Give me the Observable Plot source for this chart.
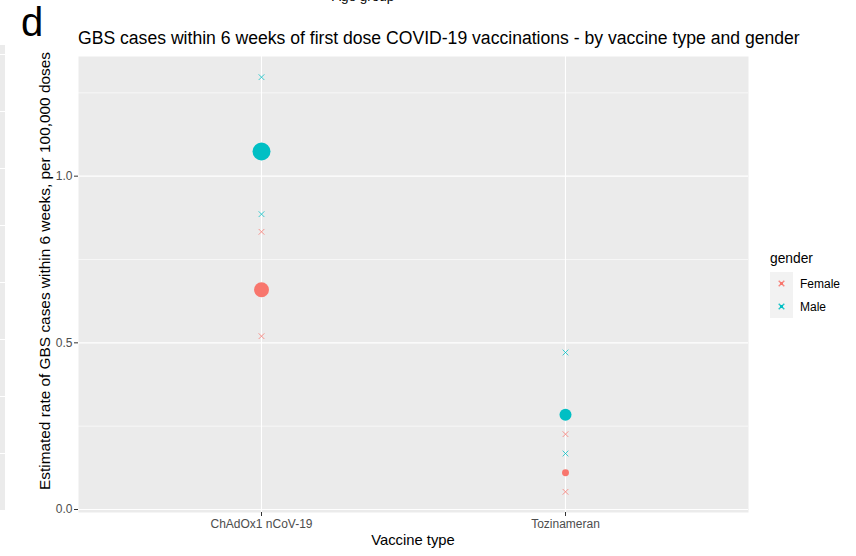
<!DOCTYPE html>
<html>
<head>
<meta charset="utf-8">
<script src="https://cdn.jsdelivr.net/npm/d3@7"></script>
<script src="https://cdn.jsdelivr.net/npm/@observablehq/plot@0.6"></script>
<style>
  html, body { margin: 0; padding: 0; background: #fff; }
  body { width: 856px; height: 556px; position: relative; overflow: hidden; font-family: "Liberation Sans", Arial, sans-serif; }
  .abs { position: absolute; white-space: nowrap; }
  #chart { position: absolute; left: 0; top: 0; }
  #strip { position: absolute; left: 0; top: 45px; width: 5px; height: 465px;
    background: repeating-linear-gradient(to bottom, #EBEBEB 0px, #EBEBEB 9px, #ffffff 9px, #ffffff 10px, #EBEBEB 10px, #EBEBEB 57px); }
</style>
</head>
<body>
<div id="strip"></div>
<div id="chart"></div>
<div class="abs" style="left:332px; top:-11px; font-size:13.5px; color:#000;">Age group</div>
<div class="abs" style="left:21px; top:2px; font-size:40px; line-height:40px; color:#000;">d</div>
<div class="abs" id="title" style="left:78px; top:28px; font-size:17.6px; color:#000;">GBS cases within 6 weeks of first dose COVID-19 vaccinations - by vaccine type and gender</div>
<div class="abs" id="xtitle" style="left:413px; top:532px; font-size:14.8px; color:#000; transform:translateX(-50%);">Vaccine type</div>
<div class="abs" id="ytitle" style="left:45px; top:271px; font-size:15.4px; color:#000; transform:translate(-50%,-50%) rotate(-90deg);">Estimated rate of GBS cases within 6 weeks, per 100,000 doses</div>
<div id="legend" class="abs" style="left:770px; top:250px;"></div>
<script>
// ---- data ----
const vaccineCategories = ["ChAdOx1 nCoV-19", "Tozinameran"];
const genderCategories = ["Female", "Male"];
const vaccines = ["ChAdOx1 nCoV-19", "ChAdOx1 nCoV-19", "Tozinameran", "Tozinameran"];
const genders  = ["Female", "Male", "Female", "Male"];
const estimate = [0.659, 1.074, 0.110, 0.284];
const lower    = [0.520, 0.886, 0.053, 0.168];
const upper    = [0.833, 1.297, 0.226, 0.471];
const cases    = [56, 81, 12, 36];
const majorTicks = [0, 0.5, 1.0];
const minorTicks = [0.25, 0.75, 1.25];
const genderColors = ["#F8766D", "#00BFC4"];

const rows = vaccines.map((v, i) => ({
  vaccine: v, gender: genders[i], estimate: estimate[i],
  lower: lower[i], upper: upper[i], cases: cases[i]
}));

const chart = Plot.plot({
  width: 856,
  height: 556,
  marginLeft: 78,
  marginRight: 108,
  marginTop: 56,
  marginBottom: 44,
  style: { fontFamily: "Liberation Sans, Arial, sans-serif", fontSize: "12px", color: "#4D4D4D", background: "transparent" },
  x: { type: "point", domain: vaccineCategories, padding: 0.6, label: null },
  y: { domain: [-0.009, 1.359], label: null },
  r: { domain: [0, d3.max(cases)], range: [0, 9] },
  color: { domain: genderCategories, range: genderColors },
  marks: [
    Plot.frame({ fill: "#EBEBEB", stroke: null }),
    Plot.ruleY(minorTicks, { stroke: "white", strokeWidth: 0.6 }),
    Plot.ruleY(majorTicks, { stroke: "white", strokeWidth: 1.1 }),
    Plot.ruleX(vaccineCategories, { stroke: "white", strokeWidth: 1.1 }),
    Plot.axisY(majorTicks, { tickSize: 4, tickPadding: 2, tickFormat: d3.format(".1f"), label: null, stroke: "#333333", fill: "#4D4D4D" }),
    Plot.axisX(vaccineCategories, { tickSize: 4, tickPadding: 3, label: null, stroke: "#333333", fill: "#4D4D4D" }),
    Plot.dot(rows, { x: "vaccine", y: "lower", symbol: "times", stroke: "gender", r: 2.7, strokeWidth: 1, strokeOpacity: 0.75 }),
    Plot.dot(rows, { x: "vaccine", y: "upper", symbol: "times", stroke: "gender", r: 2.7, strokeWidth: 1, strokeOpacity: 0.75 }),
    Plot.dot(rows, { x: "vaccine", y: "estimate", r: "cases", fill: "gender", stroke: null })
  ]
});
document.getElementById("chart").appendChild(chart);

// ---- legend (HTML text + small svg keys) ----
const legend = document.getElementById("legend");
const lt = document.createElement("div");
lt.textContent = "gender";
lt.style.cssText = "font-size:13.8px;color:#000;height:22px;line-height:18px;";
legend.appendChild(lt);
genderCategories.forEach((g, i) => {
  const row = document.createElement("div");
  row.style.cssText = "display:flex;align-items:center;height:23px;";
  const ns = "http://www.w3.org/2000/svg";
  const svg = document.createElementNS(ns, "svg");
  svg.setAttribute("width", 23); svg.setAttribute("height", 23);
  svg.style.display = "block";
  const bg = document.createElementNS(ns, "rect");
  bg.setAttribute("width", 23); bg.setAttribute("height", 23); bg.setAttribute("fill", "#F2F2F2");
  svg.appendChild(bg);
  const c = document.createElementNS(ns, "rect");
  c.setAttribute("x", 10); c.setAttribute("y", 10); c.setAttribute("width", 3); c.setAttribute("height", 3);
  c.setAttribute("fill", genderColors[i]);
  svg.appendChild(c);
  const p = document.createElementNS(ns, "path");
  p.setAttribute("d", "M8.7,8.7L14.3,14.3M14.3,8.7L8.7,14.3");
  p.setAttribute("stroke", genderColors[i]); p.setAttribute("stroke-width", 1.4); p.setAttribute("opacity", 0.85);
  svg.appendChild(p);
  row.appendChild(svg);
  const t = document.createElement("span");
  t.textContent = g;
  t.style.cssText = "font-size:12px;color:#000;margin-left:7px;";
  row.appendChild(t);
  legend.appendChild(row);
});
</script>
</body>
</html>
